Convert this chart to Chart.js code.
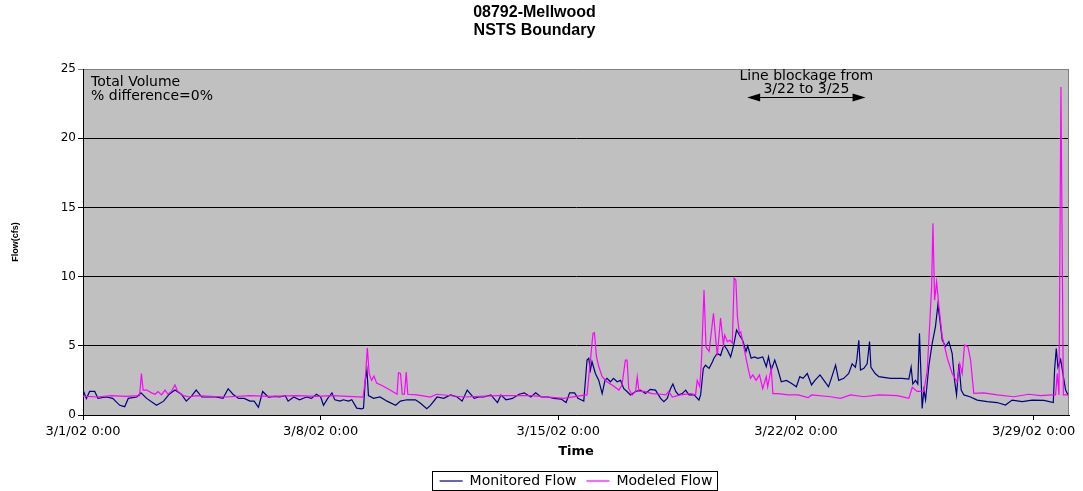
<!DOCTYPE html>
<html>
<head>
<meta charset="utf-8">
<script src="https://cdn.jsdelivr.net/npm/chart.js@4/dist/chart.umd.min.js"></script>
<style>
  html, body { margin: 0; padding: 0; background: #fff; }
  #chart { display: block; }
</style>
</head>
<body>
<canvas id="chart" width="1083" height="491"></canvas>
<script>
// hours since 3/1/02 0:00
const chartTitle = ['08792-Mellwood', 'NSTS Boundary'];
const xTickHours = [0, 168, 336, 504, 672];
const xTickLabels = ['3/1/02 0:00', '3/8/02 0:00', '3/15/02 0:00', '3/22/02 0:00', '3/29/02 0:00'];
const yTicks = [0, 5, 10, 15, 20, 25];
const seriesNames = ['Monitored Flow', 'Modeled Flow'];
const volumeNote = ['Total Volume', '% difference=0%'];
const blockageNote = ['Line blockage from', '3/22 to 3/25'];
const blockageArrowHours = [469.5, 553.2];

const monitoredHours = [
  0, 2.4, 4.7, 8.3, 10.6, 16.5, 21, 26, 29.5, 32, 38, 41, 45, 52, 57, 61, 65, 69.5, 73, 77,
  80, 84, 90, 94, 99, 102.6, 106, 110, 114, 118, 121, 124, 127, 131, 136, 139, 143, 145, 149, 153,
  158, 161.5, 165, 168, 170, 173, 176, 178, 181.8, 184, 187.7, 190, 193.5, 197, 198.3, 199.5, 200.7, 201.8, 205.4, 210,
  214.9, 221, 224.4, 229, 235, 238.6, 243, 245.6, 250.3, 255, 259.8, 264.5, 268, 271.6, 274, 276.5, 280, 283.5, 288.3, 293,
  295.4, 299, 303.6, 308.3, 311.9, 316.6, 320, 323.8, 328.5, 333, 338, 341.5, 344, 347.5, 349.9, 352, 354, 356.3, 357.5, 358.7,
  359.8, 362.2, 364.6, 367, 369, 370.4, 372.8, 375, 377.6, 380, 382.3, 384.6, 387, 390.6, 394, 397.6, 401, 404.7, 408.3, 410.6,
  413, 415.3, 417, 419, 421, 423.6, 426, 428.4, 432, 435.4, 436.6, 438.5, 440, 442.6, 445, 446, 448.4, 450.7, 453, 455.5,
  457.8, 460, 462, 464, 466.3, 468.7, 469.9, 472.3, 474.6, 477, 480.5, 483, 484.6, 486.5, 489, 491.3, 493.6, 497.2, 500.7, 504.3,
  506.7, 509, 512, 515, 517.4, 521, 524.5, 527, 529, 532, 534.2, 537.8, 541.3, 543.7, 546, 547, 548.4, 549.6, 552, 554.3,
  556, 557, 560, 562.6, 570.8, 579, 583.8, 585.4, 586.6, 588.5, 590.1, 591.3, 592.5, 593.2, 594.4, 595.6, 598, 600.3, 602.6, 604.3,
  605.7, 607.4, 609.7, 612.1, 614.4, 616.1, 617.5, 619.2, 620.8, 622.7, 627.4, 632.1, 639.2, 646.2, 652.1, 656.8, 663.9, 671, 679.3, 685.9,
  686.8, 688, 689.2, 691.1, 692.7, 694.6, 696.3, 697
];
const monitoredFlow = [
  1.8, 1.2, 1.7, 1.7, 1.2, 1.3, 1.2, 0.7, 0.6, 1.2, 1.3, 1.6, 1.2, 0.7, 1.0, 1.5, 1.8, 1.5, 1.0, 1.4,
  1.8, 1.3, 1.3, 1.3, 1.2, 1.9, 1.5, 1.2, 1.2, 1.0, 1.0, 0.55, 1.7, 1.3, 1.35, 1.3, 1.4, 1.0, 1.3, 1.1,
  1.3, 1.2, 1.5, 1.3, 0.7, 1.2, 1.6, 1.1, 1.0, 1.1, 1.0, 1.1, 0.5, 0.45, 0.5, 2.5, 3.25, 1.4, 1.2, 1.3,
  1.0, 0.7, 1.0, 1.1, 1.1, 0.85, 0.45, 0.7, 1.3, 1.2, 1.45, 1.3, 1.0, 1.8, 1.5, 1.2, 1.3, 1.3, 1.45, 0.9,
  1.45, 1.1, 1.2, 1.5, 1.6, 1.3, 1.6, 1.3, 1.3, 1.2, 1.15, 0.9, 1.6, 1.6, 1.2, 1.1, 1.0, 3.97, 4.1, 3.25,
  3.85, 3.0, 2.5, 1.55, 2.5, 2.65, 2.4, 2.65, 2.4, 2.5, 1.9, 1.7, 1.45, 1.7, 1.8, 1.55, 1.85, 1.8, 1.2, 0.97,
  1.2, 1.9, 2.24, 1.7, 1.45, 1.55, 1.8, 1.45, 1.45, 1.08, 1.45, 3.37, 3.6, 3.37, 3.85, 4.1, 4.46, 4.3, 5.06, 4.7,
  4.2, 5.06, 6.14, 5.78, 5.4, 4.6, 5.0, 4.1, 4.2, 4.1, 4.2, 3.5, 4.2, 3.25, 3.97, 3.25, 2.4, 2.5, 2.3, 2.04,
  2.77, 2.65, 3.0, 2.17, 2.5, 2.9, 2.4, 2.04, 2.65, 3.6, 2.5, 2.65, 3.0, 3.7, 3.45, 4.0, 5.4, 3.25, 3.37, 3.7,
  5.3, 3.45, 3.0, 2.77, 2.65, 2.65, 2.6, 3.45, 2.24, 2.5, 2.24, 5.9, 2.5, 0.48, 1.8, 1.1, 3.6, 5.18, 6.38, 7.95,
  6.9, 5.42, 4.94, 5.3, 4.46, 2.5, 1.45, 3.7, 1.8, 1.45, 1.3, 1.08, 0.97, 0.9, 0.72, 1.08, 0.97, 1.08, 1.05, 0.9,
  3.25, 4.8, 3.45, 4.0, 3.0, 1.8, 1.45, 1.7
];

const modeledHours = [
  0, 10, 20, 30, 40, 41.3, 42.5, 45, 48.5, 51, 53, 55.5, 58, 60, 62.5, 65, 67, 71, 75.5, 80,
  101, 118, 132, 151, 165, 176, 198, 199.5, 201, 202.3, 204, 205.7, 207.6, 212, 217, 222, 223, 224.4, 225.7, 227.2,
  228.5, 229.6, 236, 245.6, 250, 269, 293, 316.6, 340, 352, 356.3, 358.7, 360.5, 361.5, 363, 364.6, 367, 370.4, 375, 378.8,
  381, 383.4, 384.6, 385.8, 388.2, 390.6, 391.8, 393, 396.6, 402.4, 408.3, 412, 414, 416.6, 422.4, 429.6, 433, 434.2, 436, 437.2,
  439, 440.4, 442.6, 445.7, 447.3, 448.4, 450.7, 452.7, 453.6, 455.5, 457.4, 459, 460.3, 461.5, 462.6, 464, 465, 467.5, 469.9, 471.8,
  473.5, 475.8, 478.2, 480.5, 483, 484, 486.5, 487.7, 491.3, 498.4, 505.5, 512.6, 515, 528.4, 535.5, 542.6, 552, 562.6, 575.6, 583.8,
  586.2, 589.7, 594.4, 596.8, 598.7, 599.9, 600.8, 602, 603.4, 605.1, 607.4, 611, 614.4, 617.9, 619.8, 621.5, 623.1, 625.5, 627.4, 629.7,
  636.8, 646.2, 658, 668.6, 676.8, 685.1, 687.5, 688.7, 689.9, 691.3, 693, 697
];
const modeledFlow = [
  1.37, 1.3, 1.4, 1.35, 1.4, 3.0, 1.8, 1.8, 1.6, 1.5, 1.7, 1.45, 1.8, 1.5, 1.7, 2.17, 1.7, 1.4, 1.3, 1.4,
  1.3, 1.4, 1.35, 1.4, 1.35, 1.4, 1.3, 2.5, 4.85, 3.0, 2.5, 2.8, 2.3, 2.1, 1.8, 1.5, 3.05, 3.0, 1.5, 1.5,
  3.1, 1.5, 1.45, 1.3, 1.5, 1.3, 1.4, 1.4, 1.2, 1.4, 1.45, 3.97, 5.9, 5.95, 4.2, 3.5, 2.77, 2.4, 2.1, 1.8,
  2.17, 3.97, 3.97, 1.9, 1.45, 1.7, 2.77, 1.7, 1.7, 1.55, 1.5, 1.45, 1.7, 1.3, 1.45, 1.55, 1.45, 2.5, 2.04, 3.97,
  9.03, 4.9, 4.6, 7.35, 5.4, 4.3, 7.0, 5.06, 5.78, 5.3, 5.4, 5.2, 9.88, 9.75, 7.1, 5.9, 6.0, 4.7, 3.5, 2.65,
  2.9, 2.5, 2.9, 1.9, 2.77, 2.04, 3.37, 1.55, 1.55, 1.45, 1.45, 1.25, 1.45, 1.32, 1.2, 1.45, 1.32, 1.45, 1.4, 1.2,
  2.0, 1.7, 1.7, 3.25, 6.9, 9.27, 13.85, 8.3, 9.63, 7.8, 5.66, 4.1, 3.0, 2.4, 3.7, 3.0, 5.06, 4.94, 4.0, 1.56,
  1.6, 1.45, 1.32, 1.5, 1.4, 1.45, 1.45, 3.0, 1.45, 23.7, 1.45, 1.45
];

const plotBackground = {
  id: 'plotBackground',
  beforeDraw(chart) {
    const {ctx, chartArea: a} = chart;
    ctx.save();
    ctx.fillStyle = '#c0c0c0';
    ctx.fillRect(a.left, a.top, a.right - a.left, a.bottom - a.top);
    ctx.restore();
  },
  afterDraw(chart) {
    const {ctx, chartArea: a} = chart;
    ctx.save();
    ctx.strokeStyle = '#808080';
    ctx.lineWidth = 1;
    ctx.beginPath();
    ctx.moveTo(a.right - 0.5, a.top);
    ctx.lineTo(a.right - 0.5, a.bottom);
    ctx.stroke();
    ctx.restore();
  }
};

const notes = {
  id: 'notes',
  afterDraw(chart) {
    const {ctx, chartArea: a} = chart;
    const x = chart.scales.x, y = chart.scales.y;
    ctx.save();
    ctx.fillStyle = '#000';
    ctx.font = '14px "DejaVu Sans"';
    ctx.textBaseline = 'middle';
    ctx.textAlign = 'left';
    ctx.fillText(volumeNote[0], a.left + 8, y.getPixelForValue(24.05));
    ctx.fillText(volumeNote[1], a.left + 8, y.getPixelForValue(23.05));

    let x0 = x.getPixelForValue(blockageArrowHours[0]);
    let x1 = x.getPixelForValue(blockageArrowHours[1]);
    let cx = (x0 + x1) / 2;
    ctx.textAlign = 'center';
    ctx.fillText(blockageNote[0], cx, y.getPixelForValue(24.5));
    ctx.fillText(blockageNote[1], cx, y.getPixelForValue(23.5));

    // double arrow
    let ay = Math.round(y.getPixelForValue(22.95)) + 0.5;
    ctx.strokeStyle = '#000';
    ctx.lineWidth = 1;
    ctx.beginPath();
    ctx.moveTo(x0 + 10, ay);
    ctx.lineTo(x1 - 10, ay);
    ctx.stroke();
    ctx.beginPath();
    ctx.moveTo(x0, ay);
    ctx.lineTo(x0 + 13, ay - 4);
    ctx.lineTo(x0 + 13, ay + 4);
    ctx.closePath();
    ctx.moveTo(x1, ay);
    ctx.lineTo(x1 - 13, ay - 4);
    ctx.lineTo(x1 - 13, ay + 4);
    ctx.closePath();
    ctx.fill();

    // legend frame
    const lg = chart.legend;
    if (lg && lg.legendHitBoxes.length) {
      let boxes = lg.legendHitBoxes;
      let left = Math.min(...boxes.map(b => b.left)) - 8;
      let right = Math.max(...boxes.map(b => b.left + b.width)) + 4;
      let mid = boxes[0].top + boxes[0].height / 2;
      ctx.strokeStyle = '#000';
      ctx.strokeRect(Math.round(left) + 0.5, Math.round(mid - 10) + 0.5, Math.round(right - left), 19);
    }
    ctx.restore();
  }
};

const ctx = document.getElementById('chart');
new Chart(ctx, {
  type: 'line',
  data: {
    datasets: [
      {
        label: seriesNames[0],
        data: monitoredHours.map((h, i) => ({x: h, y: monitoredFlow[i]})),
        borderColor: '#000080',
        backgroundColor: '#000080',
        borderWidth: 1.2,
        pointRadius: 0,
        tension: 0,
        fill: false,
        order: 1
      },
      {
        label: seriesNames[1],
        data: modeledHours.map((h, i) => ({x: h, y: modeledFlow[i]})),
        borderColor: '#ff00ff',
        backgroundColor: '#ff00ff',
        borderWidth: 1.2,
        pointRadius: 0,
        tension: 0,
        fill: false,
        order: 0
      }
    ]
  },
  options: {
    responsive: false,
    animation: false,
    devicePixelRatio: 1,
    layout: { padding: { left: 0, right: 14, top: 0, bottom: 0 } },
    plugins: {
      title: {
        display: true,
        text: chartTitle,
        color: '#000',
        font: { family: '"Liberation Sans", Arial', size: 16, weight: 'bold', lineHeight: '18px' },
        padding: { top: 4, bottom: 29 }
      },
      legend: {
        position: 'bottom',
        fullSize: false,
        maxHeight: 27,
        labels: {
          color: '#000',
          font: { family: '"DejaVu Sans"', size: 14 },
          usePointStyle: true,
          pointStyle: 'line',
          pointStyleWidth: 23,
          padding: 10,
          sort: (a, b) => a.datasetIndex - b.datasetIndex
        }
      },
      tooltip: { enabled: false }
    },
    scales: {
      x: {
        type: 'linear',
        min: 0,
        max: 697,
        afterBuildTicks: (scale) => { scale.ticks = xTickHours.map(v => ({value: v})); },
        afterFit: (scale) => { scale.height = 49; },
        ticks: {
          autoSkip: false,
          maxRotation: 0,
          padding: 4,
          color: '#000',
          font: { family: '"DejaVu Sans"', size: 13 },
          callback: (v) => xTickLabels[xTickHours.indexOf(v)]
        },
        grid: { drawOnChartArea: false, tickLength: 5, color: '#000' },
        border: { display: true, color: '#000', width: 1 },
        title: {
          display: true,
          text: 'Time',
          color: '#000',
          font: { family: '"DejaVu Sans"', size: 13, weight: 'bold' },
          padding: { top: 0, bottom: 5 }
        }
      },
      y: {
        min: 0,
        max: 25,
        afterBuildTicks: (scale) => { scale.ticks = yTicks.map(v => ({value: v})); },
        afterFit: (scale) => { scale.width = 83; },
        ticks: {
          padding: 2,
          color: '#000',
          font: { family: '"DejaVu Sans"', size: 12 }
        },
        grid: {
          color: (c) => (c.tick && c.tick.value === 25 ? '#808080' : '#000'),
          tickLength: 5,
          lineWidth: 1
        },
        border: { display: true, color: '#000', width: 1 },
        title: {
          display: true,
          text: 'Flow(cfs)',
          color: '#000',
          font: { family: '"Liberation Sans", Arial', size: 9, weight: 'bold' },
          padding: { top: 10, bottom: 0 }
        }
      }
    }
  },
  plugins: [plotBackground, notes]
});
</script>
</body>
</html>
